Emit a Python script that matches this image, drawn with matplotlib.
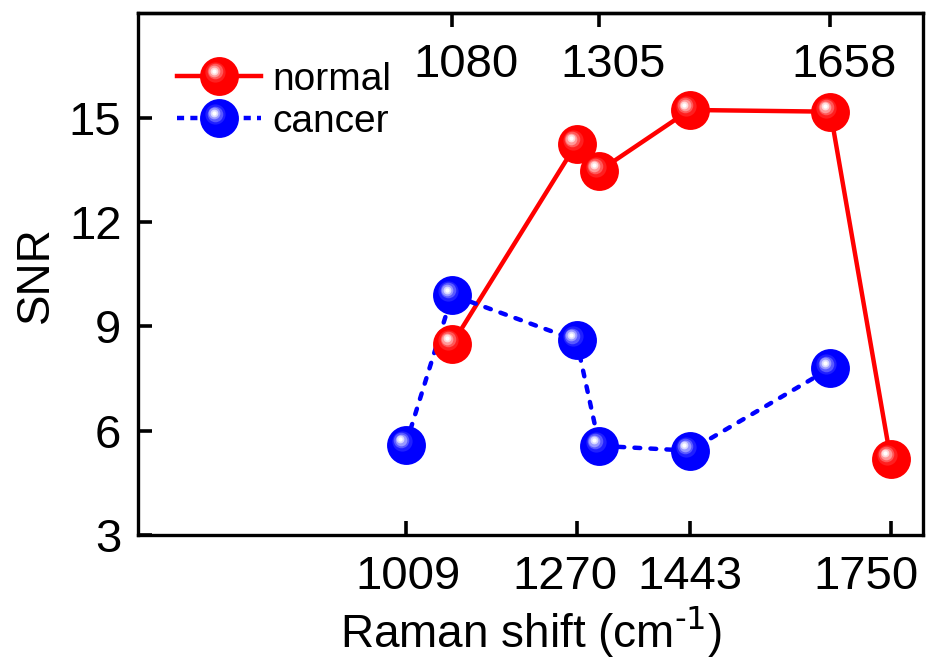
import matplotlib
matplotlib.use("Agg")
import matplotlib.pyplot as plt
from matplotlib.legend_handler import HandlerLine2D
from matplotlib.lines import Line2D
from matplotlib.transforms import offset_copy, blended_transform_factory, ScaledTranslation

plt.rcParams['font.family'] = ['Liberation Sans', 'DejaVu Sans']

# 数据
shift_normal = [1080, 1270, 1305, 1443, 1658, 1750]
snr_normal = [8.5, 14.25, 13.47, 15.22, 15.17, 5.2]
shift_cancer = [1009, 1080, 1270, 1305, 1443, 1658]
snr_cancer = [5.6, 9.9, 8.6, 5.57, 5.43, 7.8]

bottom_ticks = [1009, 1270, 1443, 1750]
bottom_shift_px = [2, -12, 0, -25]  # 原图中底部刻度文字的手动偏移
top_ticks = [1080, 1305, 1658]
y_ticks = [3, 6, 9, 12, 15]

RED = (1.0, 0.0, 0.0)
BLUE = (0.0, 0.0, 1.0)
MS = 28  # 球的直径（pt）
LW = 3.2

# 高光层：(半径比例, 向左上偏移比例, 白色混合比例)
LAYERS = [(0.52, 0.2, 0.12), (0.4, 0.24, 0.35), (0.3, 0.26, 0.6),
          (0.2, 0.28, 0.85), (0.11, 0.28, 1.0)]


def mix(c, t):
    return tuple(ci + (1 - ci) * t for ci in c)


def draw_spheres(ax, xs, ys, color, zorder):
    ax.plot(xs, ys, 'o', ms=MS, color=color, mew=0, zorder=zorder)
    R = MS / 2
    for frac, off, t in LAYERS:
        tr = offset_copy(ax.transData, fig=ax.figure, x=-off * R, y=off * R, units='points')
        ax.plot(xs, ys, 'o', ms=MS * frac, color=mix(color, t), mew=0,
                transform=tr, zorder=zorder + 0.1)


class SphereHandler(HandlerLine2D):
    def create_artists(self, legend, orig_handle, xdescent, ydescent, width, height, fontsize, trans):
        artists = super().create_artists(legend, orig_handle, xdescent, ydescent,
                                         width, height, fontsize, trans)
        color = orig_handle.get_color()
        cx = width / 2 - xdescent
        cy = height / 2 - ydescent
        R = MS / 2
        for frac, off, t in LAYERS:
            ln = Line2D([cx - off * R], [cy + off * R], marker='o', ms=MS * frac,
                        color=mix(color, t), mew=0, linestyle='none')
            ln.set_transform(trans)
            artists.append(ln)
        return artists


fig = plt.figure(figsize=(9.27, 6.6), dpi=100)
ax = fig.add_axes([0.149, 0.189, 0.847, 0.791])

ax.plot(shift_normal, snr_normal, '-', color=RED, lw=LW, zorder=2)
ax.plot(shift_cancer, snr_cancer, color=BLUE, lw=LW, dashes=(1.3, 2.3),
        dash_capstyle='round', zorder=2)
draw_spheres(ax, shift_cancer, snr_cancer, BLUE, 3)
draw_spheres(ax, shift_normal, snr_normal, RED, 4)

ax.set_xlim(600, 1800)
ax.set_ylim(3, 18)
ax.set_xticks(bottom_ticks)
ax.set_xticklabels([str(v) for v in bottom_ticks])
ax.set_yticks(y_ticks)
ax.tick_params(direction='in', length=10, width=2.6, labelsize=34)
ax.tick_params(axis='x', pad=14)
ax.tick_params(axis='y', pad=12)

for lab, dx in zip(ax.get_xticklabels(), bottom_shift_px):
    lab.set_transform(lab.get_transform() + ScaledTranslation(dx / 100, 0, fig.dpi_scale_trans))

sec = ax.secondary_xaxis('top')
sec.set_xticks(top_ticks)
sec.tick_params(direction='in', length=10, width=2.6, labeltop=False)
sec.spines['top'].set_linewidth(2.4)

trans = blended_transform_factory(ax.transData, ax.transAxes)
for v in top_ticks:
    ax.annotate(str(v), xy=(v, 0.9), xycoords=trans, xytext=(10, 0),
                textcoords='offset points', ha='center', va='center', fontsize=34)

for s in ax.spines.values():
    s.set_linewidth(2.4)

ax.set_xlabel('Raman shift (cm$^{\\text{-1}}$)', fontsize=33, labelpad=4)
ax.set_ylabel('SNR', fontsize=33, labelpad=8)

h_n = Line2D([], [], color=RED, lw=LW, marker='o', ms=MS, mew=0)
h_c = Line2D([], [], color=BLUE, lw=LW, dashes=(1.6, 1.4), marker='o', ms=MS, mew=0)
ax.legend([h_n, h_c], ['normal', 'cancer'], loc='upper left', frameon=False,
          fontsize=28, handlelength=2.15, handletextpad=0.3, labelspacing=0.16,
          borderpad=0, borderaxespad=0, bbox_to_anchor=(0.05, 0.907),
          handler_map={Line2D: SphereHandler()})

fig.savefig('out.png', dpi=100)
